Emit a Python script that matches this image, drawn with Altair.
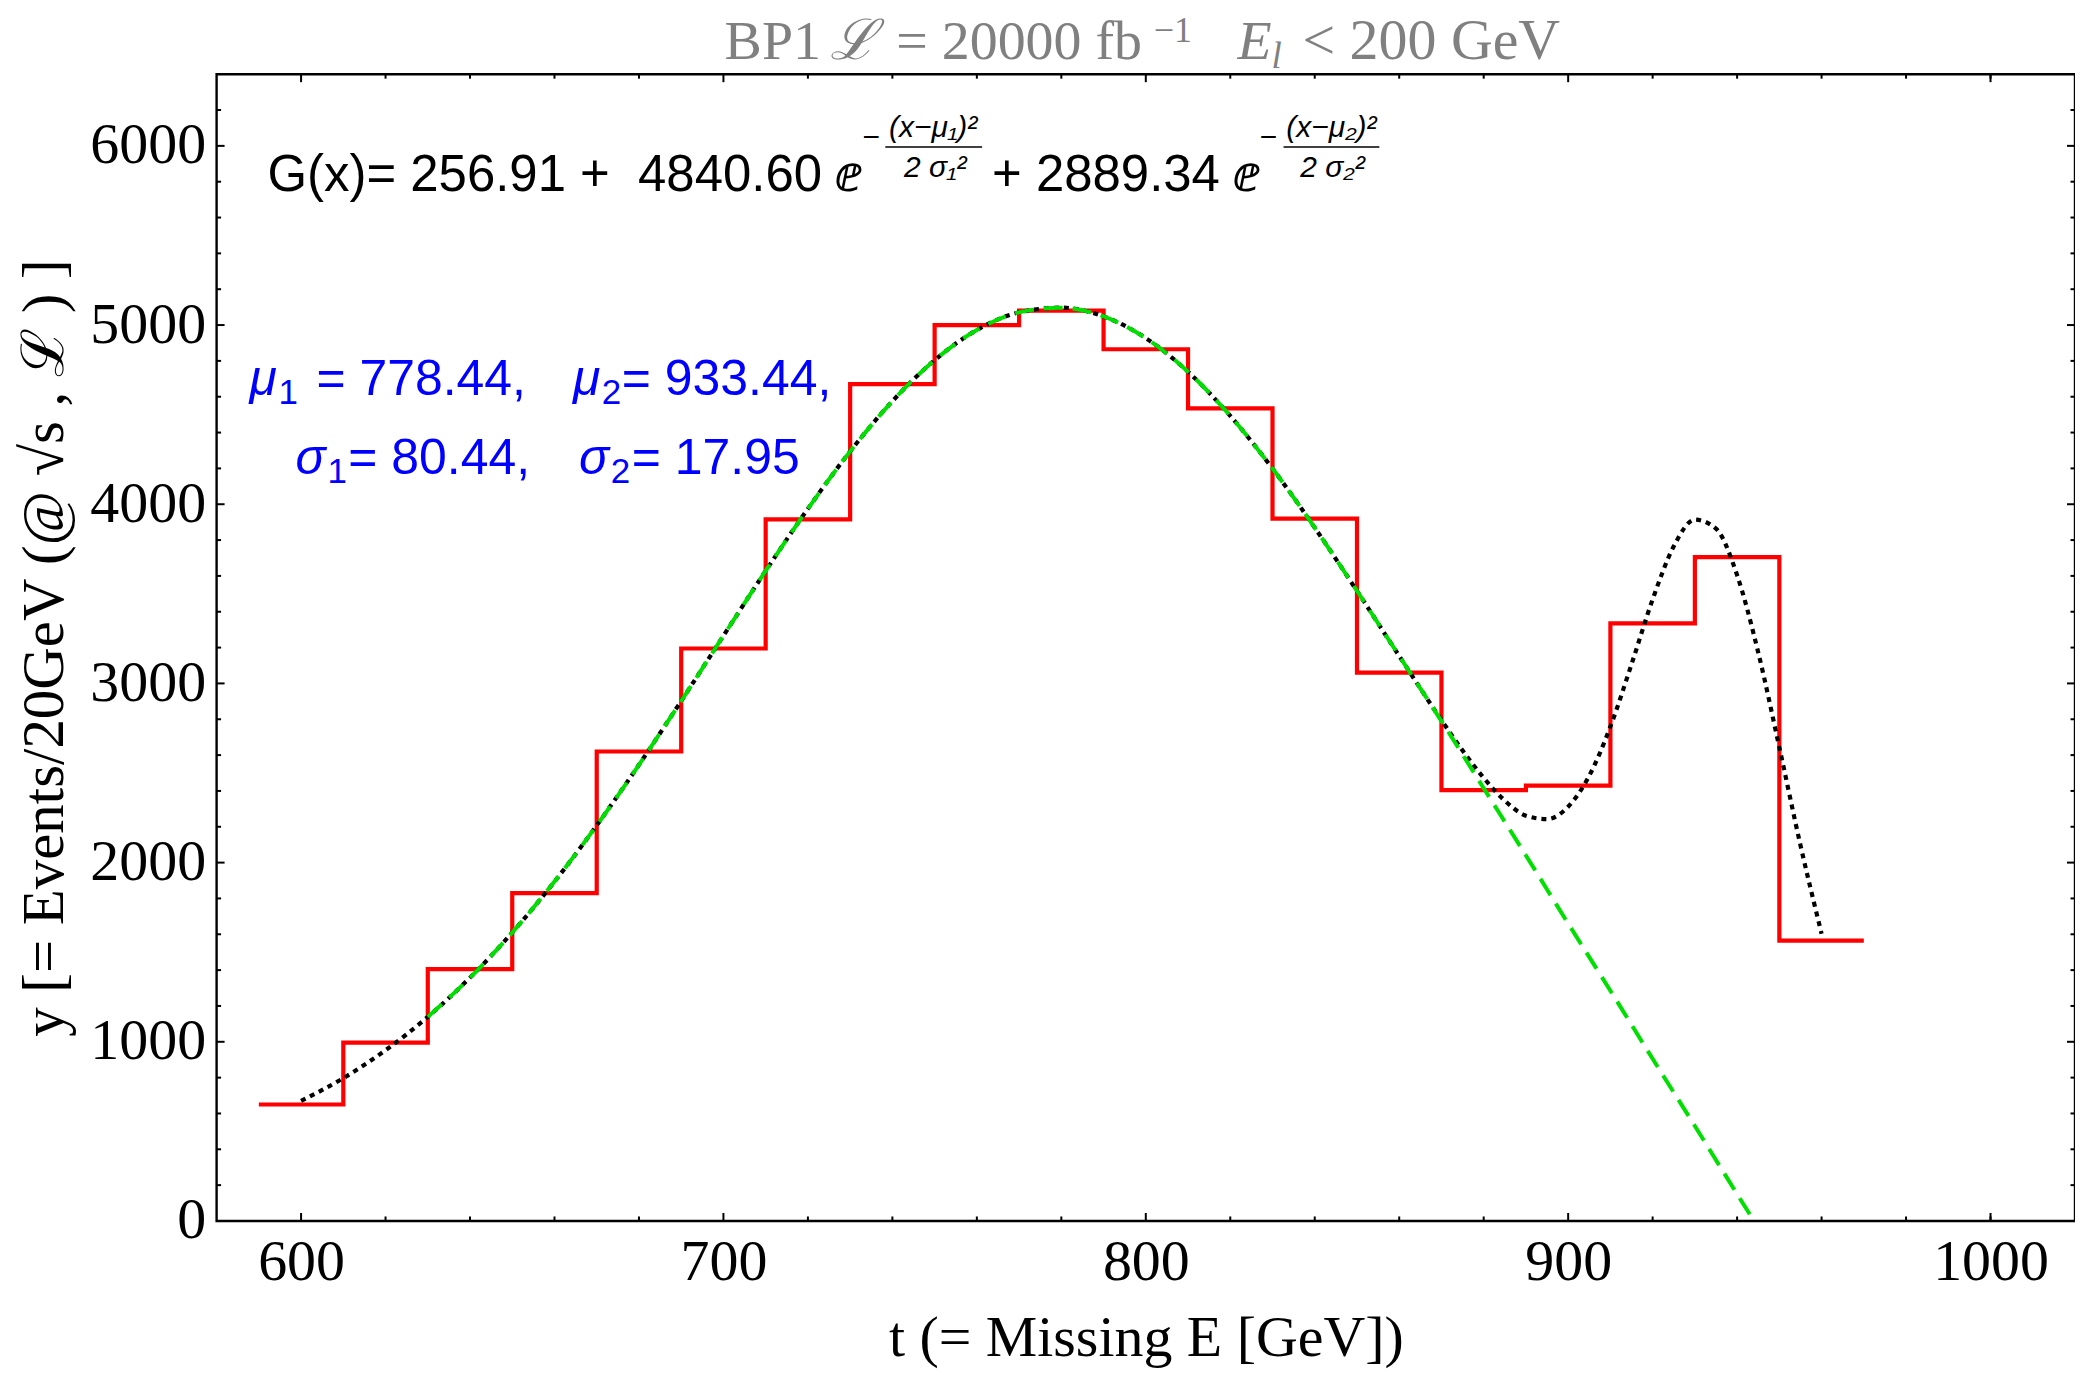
import altair as alt
import pandas as pd

# ---------------- data ----------------
# histogram, 20 GeV bins (left edges 590 ... 950, last edge 970)
bin_edges = [590, 610, 630, 650, 670, 690, 710, 730, 750, 770, 790,
             810, 830, 850, 870, 890, 910, 930, 950, 970]
bin_counts = [650, 995, 1405, 1830, 2620, 3195, 3915, 4670, 5000, 5080,
              4865, 4535, 3920, 3060, 2405, 2430, 3335, 3705, 1565]

# black dotted fit G(x)
fit_x = [600, 610, 620, 630, 640, 650, 660, 670, 680, 690, 700, 710, 720,
         730, 740, 750, 760, 770, 780, 790, 800, 810, 820, 830, 840, 850,
         860, 870, 875, 880, 885, 890, 895, 900, 905, 910, 915, 920, 925,
         930, 935, 940, 945, 950, 955, 960]
fit_y = [670, 797, 953, 1139, 1358, 1610, 1894, 2208, 2546, 2902, 3266,
         3628, 3975, 4295, 4575, 4804, 4972, 5071, 5097, 5048, 4927, 4739,
         4493, 4199, 3869, 3516, 3153, 2795, 2626, 2473, 2346, 2262, 2243,
         2312, 2485, 2759, 3107, 3469, 3765, 3914, 3864, 3604, 3173, 2643,
         2097, 1603]

# green dashed curve
green_x = [630, 640, 650, 660, 670, 680, 690, 700, 710, 720, 730, 740, 750,
           760, 770, 780, 790, 800, 810, 820, 830, 840, 850, 860, 870, 880,
           890, 900, 910, 920, 930, 940, 944]
green_y = [1139, 1358, 1610, 1894, 2208, 2546, 2902, 3266, 3628, 3975, 4295,
           4575, 4804, 4972, 5071, 5097, 5048, 4927, 4739, 4493, 4199, 3869,
           3516, 3153, 2790, 2415, 2040, 1660, 1285, 905, 530, 150, 0]

# ticks
x_major = [600, 700, 800, 900, 1000]
x_minor = [620, 640, 660, 680, 720, 740, 760, 780, 820, 840, 860, 880,
           920, 940, 960, 980, 1000]
y_major = [0, 1000, 2000, 3000, 4000, 5000, 6000]
y_minor = [200, 400, 600, 800, 1200, 1400, 1600, 1800, 2200, 2400, 2600,
           2800, 3200, 3400, 3600, 3800, 4200, 4400, 4600, 4800, 5200, 5400,
           5600, 5800, 6200]

x_title = "t (= Missing E [GeV])"
y_title = "y [= Events/20GeV (@ \u221as , \u2112 ) ]"

# ---------------- layout ----------------
W, H = 1862, 1149
XD = [580, 1020]
YD = [0, 6400]
SERIF = "Liberation Serif"
SANS = "Liberation Sans"
NB = "\u00a0"


def dx(px):
    return XD[0] + (px - 217) * (XD[1] - XD[0]) / W


def dy(py):
    return YD[1] - (py - 73) * (YD[1] - YD[0]) / H


xs = alt.Scale(domain=XD, nice=False, zero=False)
ys = alt.Scale(domain=YD, nice=False, zero=False)

hist_df = pd.DataFrame({"x": bin_edges, "y": bin_counts + [bin_counts[-1]]})
fit_df = pd.DataFrame({"x": fit_x, "y": fit_y})
green_df = pd.DataFrame({"x": green_x, "y": green_y})

hist = alt.Chart(hist_df).mark_line(
    interpolate="step-after", color="#ff0000", strokeWidth=4.2
).encode(
    x=alt.X("x:Q", scale=xs, axis=alt.Axis(
        values=x_major, ticks=False, domain=False, grid=False, format="d",
        labelFont=SERIF, labelFontSize=58, labelColor="black",
        labelPadding=13, labelFlush=False,
        title=x_title, titleFont=SERIF, titleFontSize=58,
        titleFontWeight="normal", titleColor="black", titlePadding=18)),
    y=alt.Y("y:Q", scale=ys, axis=alt.Axis(
        values=y_major, ticks=False, domain=False, grid=False, format="d",
        labelFont=SERIF, labelFontSize=58, labelColor="black",
        labelPadding=11, labelFlush=False,
        title=y_title, titleFont=SERIF, titleFontSize=59,
        titleFontWeight="normal", titleColor="black", titlePadding=15)),
)

fit = alt.Chart(fit_df).mark_line(
    interpolate="monotone", color="black", strokeWidth=4.2, strokeDash=[5, 5]
).encode(x=alt.X("x:Q", scale=xs), y=alt.Y("y:Q", scale=ys))

green = alt.Chart(green_df).mark_line(
    interpolate="monotone", color="#00e000", strokeWidth=4,
    strokeDash=[19, 10]
).encode(x=alt.X("x:Q", scale=xs), y=alt.Y("y:Q", scale=ys))

# tick marks (inward, all four sides)
layers = [hist, fit, green]
for vals, ln in ((x_major, 8), (x_minor, 4.5)):
    tdf = pd.DataFrame({"x": vals})
    layers.append(alt.Chart(tdf).mark_rule(color="black", strokeWidth=2).encode(
        x=alt.X("x:Q", scale=xs), y=alt.value(H), y2=alt.value(H - ln)))
    layers.append(alt.Chart(tdf).mark_rule(color="black", strokeWidth=2).encode(
        x=alt.X("x:Q", scale=xs), y=alt.value(0), y2=alt.value(ln)))
for vals, ln in ((y_major, 8), (y_minor, 4.5)):
    tdf = pd.DataFrame({"y": vals})
    layers.append(alt.Chart(tdf).mark_rule(color="black", strokeWidth=2).encode(
        y=alt.Y("y:Q", scale=ys), x=alt.value(0), x2=alt.value(ln)))
    layers.append(alt.Chart(tdf).mark_rule(color="black", strokeWidth=2).encode(
        y=alt.Y("y:Q", scale=ys), x=alt.value(W), x2=alt.value(W - ln)))

# ---------------- annotations: title pieces and formula text ----------------
GRAY = "#808080"
BLUE = "#0000ff"
pieces = [
    # text, px, py, size, style, color, align, baseline, font
    ("BP1", 726, 58, 56, "normal", GRAY, "left", "alphabetic", SERIF),
    ("\u2112", 832, 58, 56, "italic", GRAY, "left", "alphabetic", SERIF),
    ("= 20000 fb", 898, 58, 56, "normal", GRAY, "left", "alphabetic", SERIF),
    ("\u22121", 1156, 41, 36, "normal", GRAY, "left", "alphabetic", SERIF),
    ("E", 1240, 58, 56, "italic", GRAY, "left", "alphabetic", SERIF),
    ("l", 1274, 67, 37, "italic", GRAY, "left", "alphabetic", SERIF),
    ("< 200 GeV", 1305, 58, 58, "normal", GRAY, "left", "alphabetic", SERIF),

    ("G(x)= 256.91 +" + NB + " 4840.60 \u2147", 268, 190, 51, "normal", "black", "left", "alphabetic", SANS),
    ("\u2212", 873, 137, 30, "normal", "black", "center", "middle", SANS),
    ("(x\u2212\u03bc\u2081)\u00b2", 935, 127, 30, "italic", "black", "center", "middle", SANS),
    ("2 \u03c3\u2081\u00b2", 937, 167, 30, "italic", "black", "center", "middle", SANS),
    ("+ 2889.34 \u2147", 994, 190, 51, "normal", "black", "left", "alphabetic", SANS),
    ("\u2212", 1271, 137, 30, "normal", "black", "center", "middle", SANS),
    ("(x\u2212\u03bc\u2082)\u00b2", 1334, 127, 30, "italic", "black", "center", "middle", SANS),
    ("2 \u03c3\u2082\u00b2", 1335, 167, 30, "italic", "black", "center", "middle", SANS),

    ("\u03bc", 250, 394, 50, "italic", BLUE, "left", "alphabetic", SANS),
    ("1", 279, 403, 35, "normal", BLUE, "left", "alphabetic", SANS),
    ("= 778.44,", 317, 394, 50, "normal", BLUE, "left", "alphabetic", SANS),
    ("\u03bc", 574, 394, 50, "italic", BLUE, "left", "alphabetic", SANS),
    ("2", 603, 403, 35, "normal", BLUE, "left", "alphabetic", SANS),
    ("= 933.44,", 623, 394, 50, "normal", BLUE, "left", "alphabetic", SANS),
    ("\u03c3", 296, 474, 50, "italic", BLUE, "left", "alphabetic", SANS),
    ("1", 328, 483, 35, "normal", BLUE, "left", "alphabetic", SANS),
    ("= 80.44,", 349, 474, 50, "normal", BLUE, "left", "alphabetic", SANS),
    ("\u03c3", 580, 474, 50, "italic", BLUE, "left", "alphabetic", SANS),
    ("2", 612, 483, 35, "normal", BLUE, "left", "alphabetic", SANS),
    ("= 17.95", 633, 474, 50, "normal", BLUE, "left", "alphabetic", SANS),
]
for t, px, py, sz, st, col, al, bl, fnt in pieces:
    pdf = pd.DataFrame({"x": [dx(px)], "y": [dy(py)], "t": [t]})
    layers.append(alt.Chart(pdf).mark_text(
        align=al, baseline=bl, fontSize=sz, fontStyle=st, color=col, font=fnt
    ).encode(x=alt.X("x:Q", scale=xs), y=alt.Y("y:Q", scale=ys), text="t:N"))

# fraction bars
bars = [(887, 984, 146), (1286, 1382, 146)]
for a, b, py in bars:
    bdf = pd.DataFrame({"x": [dx(a)], "x2": [dx(b)], "y": [dy(py)]})
    layers.append(alt.Chart(bdf).mark_rule(color="black", strokeWidth=1.6).encode(
        x=alt.X("x:Q", scale=xs), x2="x2:Q", y=alt.Y("y:Q", scale=ys)))

chart = alt.layer(*layers).properties(
    width=W, height=H,
    autosize=alt.AutoSizeParams(type="none"),
    padding={"left": 209, "top": 65, "right": 0, "bottom": 150},
).configure(background="white").configure_view(stroke="black", strokeWidth=2.4)

chart.save("out.html", embed_options={"renderer": "svg", "actions": False})
